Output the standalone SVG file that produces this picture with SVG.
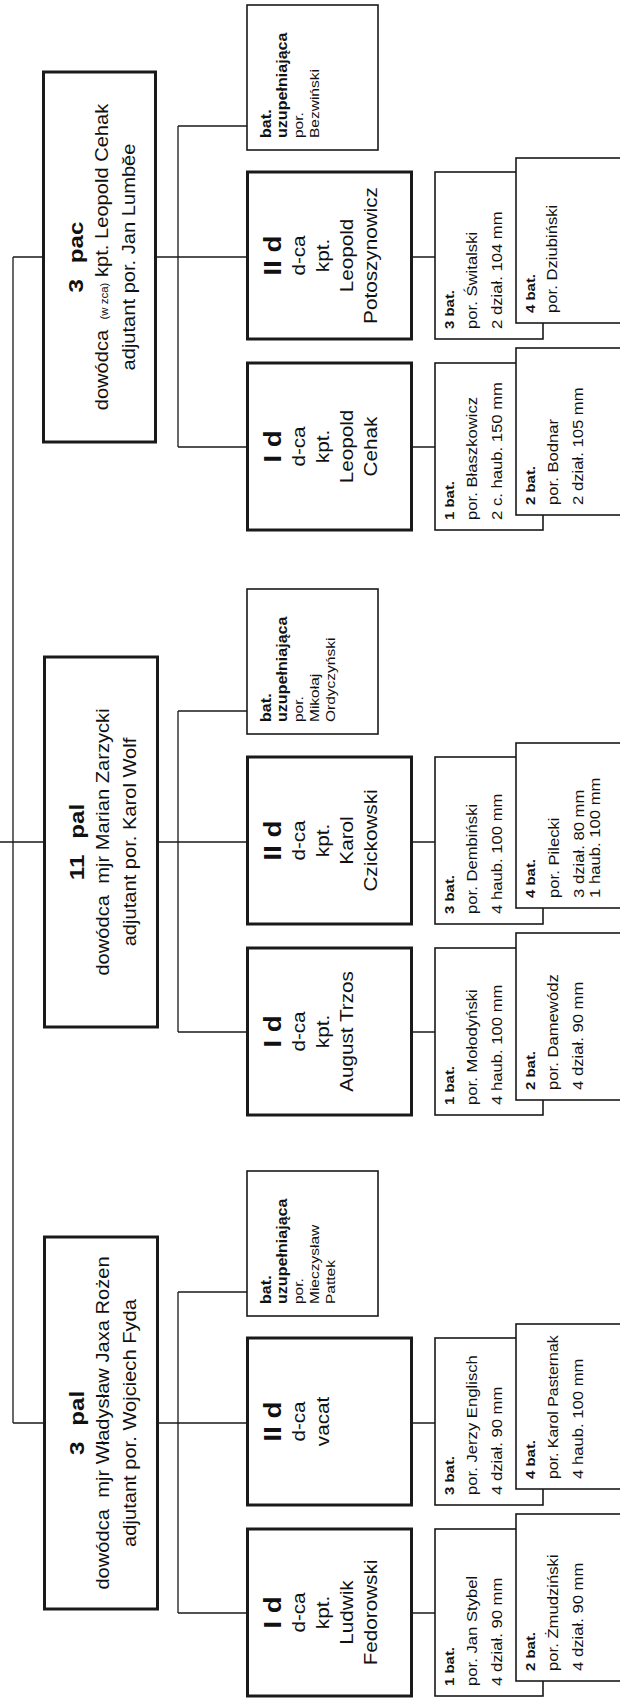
<svg xmlns="http://www.w3.org/2000/svg" width="620" height="1701" viewBox="0 0 620 1701">
<style>
.box{fill:#fff;stroke:#1a1a1a;stroke-width:3}
.bat{fill:#fff;stroke:#1a1a1a;stroke-width:1.6}
.conn{stroke:#1a1a1a;stroke-width:1.3;fill:none}
text{font-family:"Liberation Sans",Arial,sans-serif;fill:#111}
.rt{font-size:21px;font-weight:bold;text-anchor:middle;word-spacing:8px}
.rl{font-size:17.5px;text-anchor:middle}
.dt{font-size:24px;font-weight:bold;text-anchor:middle}
.dl{font-size:18px;text-anchor:middle}
.bb{font-size:13px;font-weight:bold}
.bl{font-size:14.5px}
.bs{font-size:13.8px}
.ub{font-size:14px;font-weight:bold}
.ul{font-size:13.5px}
.sm{font-size:10px}
</style>
<rect width="620" height="1701" fill="#fff"/>
<g id="connectors" class="conn">
<path d="M13 257V1423M13 257H43.5M0 842H43.5M13 1423H43.5"/>
<path d="M156 257H178M178 126V447M178 126H247M178 257H247M178 447H247M412 257H435M412 447H435"/>
<path d="M158 842H178M178 711V1032M178 711H247M178 842H247M178 1032H247M412 842H435M412 1032H435"/>
<path d="M158 1423H178M178 1292V1613M178 1292H247M178 1423H247M178 1613H247M412 1423H435M412 1613H435"/>
</g>

<!-- 3 pac -->
<g id="reg-3pac">
<rect class="box" x="43.5" y="72" width="112" height="370"/>
<g transform="translate(43 257) rotate(-90) scale(1.15 1)">
<text class="rt" x="0" y="40">3 pac</text>
<text class="rl" x="0" y="65">dowódca <tspan class="sm" dx="4">(w zca)</tspan> kpt. Leopold Cehak</text>
<text class="rl" x="0" y="92">adjutant por. Jan Lumbĕe</text>
</g>
</g>
<g id="pac-uzup">
<rect class="bat" x="247" y="5" width="131" height="145"/>
<g transform="translate(247 138) rotate(-90) scale(1.15 1)">
<text class="ub" y="24">bat.</text>
<text class="ub" y="40">uzupełniająca</text>
<text class="ul" y="56">por.</text>
<text class="ul" y="72">Bezwiński</text>
</g>
</g>
<g id="pac-IId">
<rect class="box" x="247.5" y="172" width="164" height="167"/>
<g transform="translate(247 255.5) rotate(-90) scale(1.15 1)">
<text class="dt" y="34">II d</text>
<text class="dl" y="58">d-ca</text>
<text class="dl" y="82">kpt.</text>
<text class="dl" y="106">Leopold</text>
<text class="dl" y="130">Potoszynowicz</text>
</g>
</g>
<g id="pac-Id">
<rect class="box" x="247.5" y="363" width="164" height="167"/>
<g transform="translate(247 446.5) rotate(-90) scale(1.15 1)">
<text class="dt" y="34">I d</text>
<text class="dl" y="58">d-ca</text>
<text class="dl" y="82">kpt.</text>
<text class="dl" y="106">Leopold</text>
<text class="dl" y="130">Cehak</text>
</g>
</g>
<g id="pac-3bat">
<rect class="bat" x="435" y="172" width="108" height="167"/>
<g transform="translate(435 329) rotate(-90) scale(1.15 1)">
<text class="bb" y="19">3 bat.</text>
<text class="bl" y="42">por. Świtalski</text>
<text class="bl" y="67">2 dział. 104 mm</text>
</g>
</g>
<g id="pac-4bat">
<rect class="bat" x="516" y="158" width="110" height="165"/>
<g transform="translate(516 313) rotate(-90) scale(1.15 1)">
<text class="bb" y="19">4 bat.</text>
<text class="bl" y="41">por. Dziubiński</text>
</g>
</g>
<g id="pac-1bat">
<rect class="bat" x="435" y="363" width="108" height="167"/>
<g transform="translate(435 520) rotate(-90) scale(1.15 1)">
<text class="bb" y="19">1 bat.</text>
<text class="bl" y="42">por. Błaszkowicz</text>
<text class="bl" y="67">2 c. haub. 150 mm</text>
</g>
</g>
<g id="pac-2bat">
<rect class="bat" x="516" y="348" width="110" height="167"/>
<g transform="translate(516 505) rotate(-90) scale(1.15 1)">
<text class="bb" y="19">2 bat.</text>
<text class="bl" y="42">por. Bodnar</text>
<text class="bl" y="67">2 dział. 105 mm</text>
</g>
</g>

<!-- 11 pal -->
<g id="reg-11pal">
<rect class="box" x="44.5" y="657" width="113" height="370"/>
<g transform="translate(44 842) rotate(-90) scale(1.15 1)">
<text class="rt" x="0" y="40">11 pal</text>
<text class="rl" x="0" y="65">dowódca <tspan dx="5">mjr Marian Zarzycki</tspan></text>
<text class="rl" x="0" y="92">adjutant por. Karol Wolf</text>
</g>
</g>
<g id="pal11-uzup">
<rect class="bat" x="247" y="589" width="131" height="145"/>
<g transform="translate(247 722) rotate(-90) scale(1.15 1)">
<text class="ub" y="24">bat.</text>
<text class="ub" y="40">uzupełniająca</text>
<text class="ul" y="56">por.</text>
<text class="ul" y="72">Mikołaj</text>
<text class="ul" y="88">Ordyczyński</text>
</g>
</g>
<g id="pal11-IId">
<rect class="box" x="247.5" y="757" width="164" height="167"/>
<g transform="translate(247 840.5) rotate(-90) scale(1.15 1)">
<text class="dt" y="34">II d</text>
<text class="dl" y="58">d-ca</text>
<text class="dl" y="82">kpt.</text>
<text class="dl" y="106">Karol</text>
<text class="dl" y="130">Czickowski</text>
</g>
</g>
<g id="pal11-Id">
<rect class="box" x="247.5" y="948" width="164" height="167"/>
<g transform="translate(247 1031.5) rotate(-90) scale(1.15 1)">
<text class="dt" y="34">I d</text>
<text class="dl" y="58">d-ca</text>
<text class="dl" y="82">kpt.</text>
<text class="dl" y="106">August Trzos</text>
</g>
</g>
<g id="pal11-3bat">
<rect class="bat" x="435" y="757" width="108" height="167"/>
<g transform="translate(435 914) rotate(-90) scale(1.15 1)">
<text class="bb" y="19">3 bat.</text>
<text class="bl" y="42">por. Dembiński</text>
<text class="bl" y="67">4 haub. 100 mm</text>
</g>
</g>
<g id="pal11-4bat">
<rect class="bat" x="516" y="743" width="110" height="165"/>
<g transform="translate(516 898) rotate(-90) scale(1.15 1)">
<text class="bb" y="19">4 bat.</text>
<text class="bl" y="43">por. Pilecki</text>
<text class="bl" y="68">3 dział. 80 mm</text>
<text class="bl" y="84">1 haub. 100 mm</text>
</g>
</g>
<g id="pal11-1bat">
<rect class="bat" x="435" y="948" width="108" height="167"/>
<g transform="translate(435 1105) rotate(-90) scale(1.15 1)">
<text class="bb" y="19">1 bat.</text>
<text class="bl" y="42">por. Mołodyński</text>
<text class="bl" y="67">4 haub. 100 mm</text>
</g>
</g>
<g id="pal11-2bat">
<rect class="bat" x="516" y="933" width="110" height="167"/>
<g transform="translate(516 1090) rotate(-90) scale(1.15 1)">
<text class="bb" y="19">2 bat.</text>
<text class="bl" y="42">por. Damewódz</text>
<text class="bl" y="67">4 dział. 90 mm</text>
</g>
</g>

<!-- 3 pal -->
<g id="reg-3pal">
<rect class="box" x="44.5" y="1237" width="113" height="372"/>
<g transform="translate(44 1423) rotate(-90) scale(1.15 1)">
<text class="rt" x="0" y="40">3 pal</text>
<text class="rl" x="0" y="65">dowódca <tspan dx="5">mjr Władysław Jaxa Rożen</tspan></text>
<text class="rl" x="0" y="92">adjutant por. Wojciech Fyda</text>
</g>
</g>
<g id="pal3-uzup">
<rect class="bat" x="247" y="1171" width="131" height="145"/>
<g transform="translate(247 1304) rotate(-90) scale(1.15 1)">
<text class="ub" y="24">bat.</text>
<text class="ub" y="40">uzupełniająca</text>
<text class="ul" y="56">por.</text>
<text class="ul" y="72">Mieczysław</text>
<text class="ul" y="88">Pattek</text>
</g>
</g>
<g id="pal3-IId">
<rect class="box" x="247.5" y="1338" width="164" height="167"/>
<g transform="translate(247 1421.5) rotate(-90) scale(1.15 1)">
<text class="dt" y="34">II d</text>
<text class="dl" y="58">d-ca</text>
<text class="dl" y="82">vacat</text>
</g>
</g>
<g id="pal3-Id">
<rect class="box" x="247.5" y="1529" width="164" height="167"/>
<g transform="translate(247 1612.5) rotate(-90) scale(1.15 1)">
<text class="dt" y="34">I d</text>
<text class="dl" y="58">d-ca</text>
<text class="dl" y="82">kpt.</text>
<text class="dl" y="106">Ludwik</text>
<text class="dl" y="130">Fedorowski</text>
</g>
</g>
<g id="pal3-3bat">
<rect class="bat" x="435" y="1338" width="108" height="167"/>
<g transform="translate(435 1495) rotate(-90) scale(1.15 1)">
<text class="bb" y="19">3 bat.</text>
<text class="bl" y="42">por. Jerzy Englisch</text>
<text class="bl" y="67">4 dział. 90 mm</text>
</g>
</g>
<g id="pal3-4bat">
<rect class="bat" x="516" y="1324" width="110" height="165"/>
<g transform="translate(516 1479) rotate(-90) scale(1.15 1)">
<text class="bb" y="19">4 bat.</text>
<text class="bs" y="42">por. Karol Pasternak</text>
<text class="bl" y="67">4 haub. 100 mm</text>
</g>
</g>
<g id="pal3-1bat">
<rect class="bat" x="435" y="1529" width="108" height="167"/>
<g transform="translate(435 1686) rotate(-90) scale(1.15 1)">
<text class="bb" y="19">1 bat.</text>
<text class="bl" y="42">por. Jan Stybel</text>
<text class="bl" y="67">4 dział. 90 mm</text>
</g>
</g>
<g id="pal3-2bat">
<rect class="bat" x="516" y="1514" width="110" height="167"/>
<g transform="translate(516 1671) rotate(-90) scale(1.15 1)">
<text class="bb" y="19">2 bat.</text>
<text class="bl" y="42">por. Żmudziński</text>
<text class="bl" y="67">4 dział. 90 mm</text>
</g>
</g>
</svg>
